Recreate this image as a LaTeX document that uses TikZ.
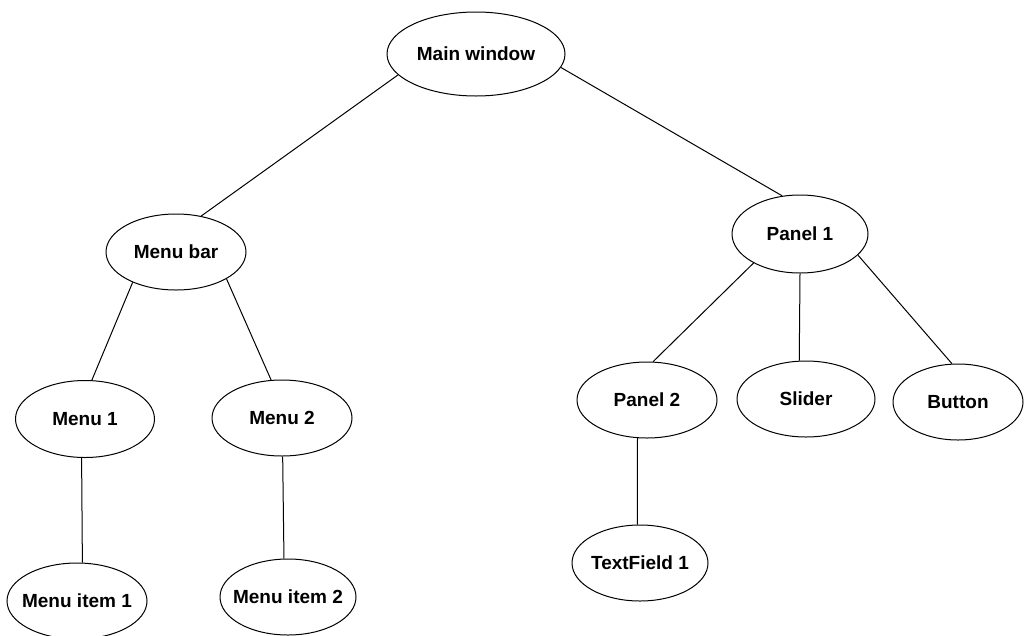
\documentclass[tikz,border=0pt]{standalone}
\usepackage{fontspec}
\setmainfont{Liberation Sans}
\usetikzlibrary{shapes.geometric}
\begin{document}
\begin{tikzpicture}[x=1pt,y=-1pt,
  oval/.style={ellipse,draw,line width=1pt,inner xsep=-30pt,inner ysep=0pt,minimum width=140pt,minimum height=76pt,font=\fontsize{19}{21}\selectfont\bfseries},
  edge/.style={line width=1pt}]
\useasboundingbox (0,0) rectangle (1024,635);
\clip (0,0) rectangle (1024,635);
\node[oval,minimum width=178pt,minimum height=84pt] (main) at (476,54) {Main window};
\node[oval] (bar) at (176,252) {Menu bar};
\node[oval,minimum width=136pt,minimum height=78pt] (p1) at (800,234) {Panel 1};
\node[oval,minimum width=139pt,minimum height=77pt] (m1) at (85,419) {Menu 1};
\node[oval] (m2) at (282,418) {Menu 2};
\node[oval] (p2) at (647,400) {Panel 2};
\node[oval,minimum width=138pt] (sl) at (806,399) {Slider};
\node[oval,minimum width=130pt] (bt) at (958,402) {Button};
\node[oval] (mi1) at (77,601) {Menu item 1};
\node[oval,minimum width=136pt] (mi2) at (288,597) {Menu item 2};
\node[oval,minimum width=136pt] (tf) at (640,563) {TextField 1};
\draw[edge] (main.195) -- (bar.55);
\draw[edge] (main.351) -- (p1.115);
\draw[edge] (bar.215) -- (m1.80);
\draw[edge] (bar.332) -- (m2.106);
\draw[edge] (m1.265) -- (mi1.82);
\draw[edge] (m2.271) -- (mi2.96);
\draw[edge] (p1.212) -- (p2.81);
\draw[edge] (p1.270) -- (sl.100);
\draw[edge] (p1.340) -- (bt.99);
\draw[edge] (p2.256) -- (tf.94);
\end{tikzpicture}
\end{document}
